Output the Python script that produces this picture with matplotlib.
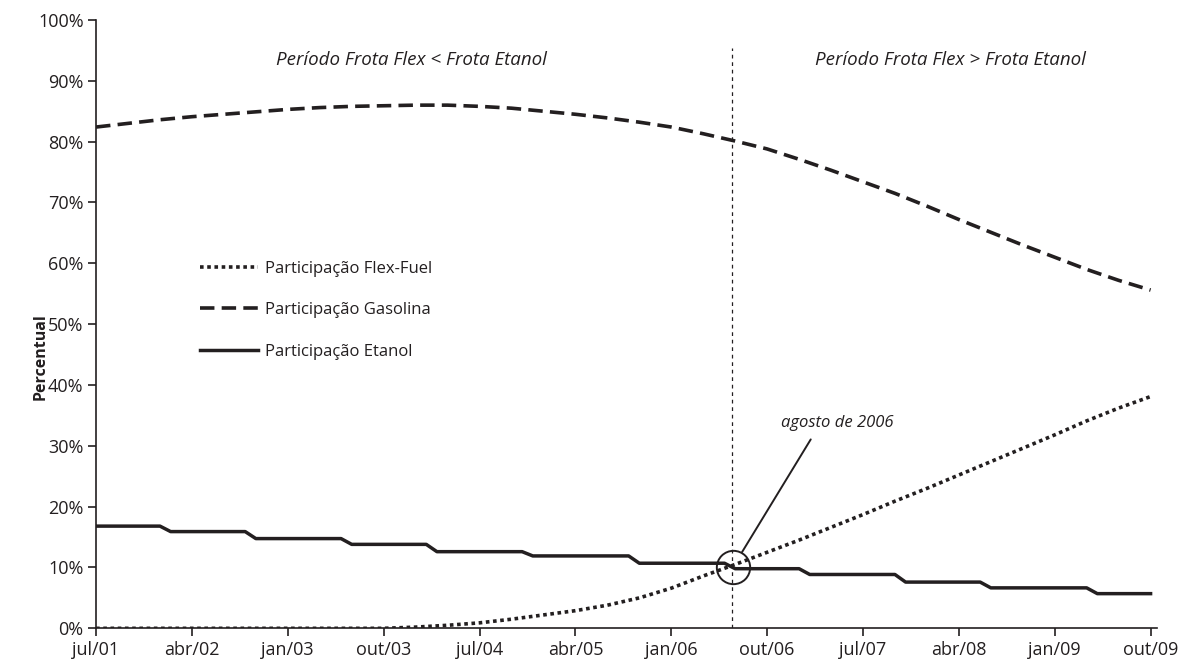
"""
Participação da frota (Flex-Fuel, Gasolina, Etanol), jul/01 - out/09.
"""

import numpy as np
import matplotlib.pyplot as plt

plt.rcParams["font.family"] = ["Open Sans", "DejaVu Sans"]

INK = "#231f20"

# eixo x em meses a partir de jul/01
tick_months = [0, 9, 18, 27, 36, 45, 54, 63, 72, 81, 90, 99]
tick_labels = ["jul/01", "abr/02", "jan/03", "out/03", "jul/04", "abr/05",
               "jan/06", "out/06", "jul/07", "abr/08", "jan/09", "out/09"]

# Etanol: degraus (mês de início de cada nível, nível em %)
etanol_start = [0, 7, 15, 24, 32, 41, 51, 60, 67, 76, 84, 94]
etanol_level = [16.8, 15.9, 14.75, 13.8, 12.6, 11.9, 10.7, 9.8, 8.85, 7.6, 6.65, 5.7]
last_month = 99

# Gasolina e Flex-Fuel: valores trimestrais
quarter_months = list(range(0, 100, 3))
gasolina = [82.4, 83.0, 83.6, 84.1, 84.5, 84.9, 85.3, 85.6, 85.8, 85.9, 86.0, 86.0,
            85.8, 85.5, 85.0, 84.5, 83.9, 83.2, 82.4, 81.3, 80.1, 78.8, 77.1, 75.3,
            73.4, 71.5, 69.4, 67.2, 65.1, 63.0, 61.0, 59.0, 57.2, 55.6]
flex = [0.0, 0.0, 0.0, 0.0, 0.0, 0.0, 0.0, 0.0, 0.0, 0.0, 0.2, 0.5,
        0.9, 1.5, 2.2, 2.9, 3.8, 5.0, 6.6, 8.6, 10.5, 12.5, 14.5, 16.6,
        18.7, 20.9, 23.0, 25.2, 27.4, 29.6, 31.8, 34.1, 36.2, 38.1]

# marco: agosto de 2006
marco_mes = 59.8
marco_valor = 10.1

# monta a série mensal do etanol a partir dos degraus
etanol_months = np.arange(0, last_month + 1)
runs = np.diff(etanol_start + [last_month + 1])
etanol = np.repeat(etanol_level, runs)

fig = plt.figure(figsize=(11.83, 6.68), dpi=100)
ax = fig.add_axes([0.0812, 0.0594, 0.8968, 0.9107])

ax.plot(quarter_months, flex, color=INK, lw=2.6, linestyle=(0, (1, 1)),
        dash_capstyle="butt", label="Participação Flex-Fuel")
ax.plot(quarter_months, gasolina, color=INK, lw=2.6, linestyle=(0, (4, 2)),
        dash_capstyle="butt", label="Participação Gasolina")
ax.plot(etanol_months, etanol, color=INK, lw=2.5, label="Participação Etanol")

# linha vertical que separa os dois períodos
ax.plot([marco_mes - 0.1, marco_mes - 0.1], [0, 95.4], color=INK, lw=0.9,
        linestyle=(0, (3, 3)))

ax.plot([marco_mes], [marco_valor], marker="o", markersize=24, mfc="none",
        mec=INK, mew=1.4)
ax.annotate("agosto de 2006", xy=(marco_mes, marco_valor), xytext=(69.6, 33.8),
            ha="center", va="center", fontsize=12, style="italic", color=INK,
            arrowprops=dict(arrowstyle="-", color=INK, lw=1.4, relpos=(0.31, 0.0),
                            shrinkA=5, shrinkB=12.5))

ax.text(29.6, 93.4, "Período Frota Flex < Frota Etanol", ha="center", va="center",
        fontsize=13.5, style="italic", color=INK)
ax.text(80.2, 93.4, "Período Frota Flex > Frota Etanol", ha="center", va="center",
        fontsize=13.5, style="italic", color=INK)

ax.set_xlim(0, 99.6)
ax.set_ylim(0, 100)
ax.set_xticks(tick_months)
ax.set_xticklabels(tick_labels)
ax.set_yticks(np.arange(0, 101, 10))
ax.set_yticklabels([f"{v}%" for v in range(0, 101, 10)])
ax.tick_params(axis="both", direction="out", length=6, width=1.2, color=INK,
               labelcolor=INK, labelsize=13, pad=3)

for side in ["top", "right"]:
    ax.spines[side].set_visible(False)
for side in ["left", "bottom"]:
    ax.spines[side].set_color(INK)
    ax.spines[side].set_linewidth(1.2)

fig.text(0.034, 1 - 357 / 668, "Percentual", rotation=90, ha="center", va="center",
         fontsize=11.5, fontweight="bold", color=INK)

leg = ax.legend(loc="upper left", bbox_to_anchor=(0.0914, 0.615), frameon=False,
                fontsize=12, handlelength=3.5, handletextpad=0.4, labelspacing=1.52,
                borderaxespad=0)
for txt in leg.get_texts():
    txt.set_color(INK)

fig.savefig("out.png", dpi=100)
